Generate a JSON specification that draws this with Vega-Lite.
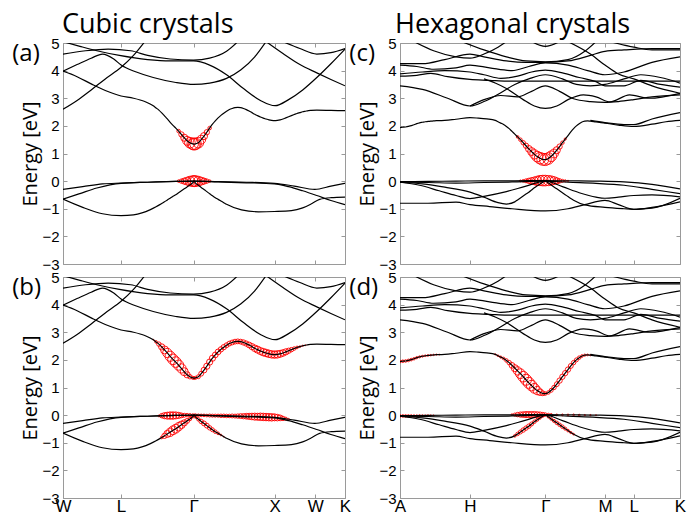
{
"$schema":"https://vega.github.io/schema/vega-lite/v6.json",
"padding":{"left":11,"top":10,"right":2,"bottom":0},
"config":{"font":"Open Sans","view":{"stroke":"#9a9a9a","strokeWidth":1},
"axis":{"domain":false,"grid":false,"tickColor":"#999","tickWidth":1,"labelFont":"Liberation Sans","labelFontSize":15,"labelColor":"#000","labelFlush":false,"labelOverlap":false,"titleFont":"Open Sans","titleFontSize":20,"titleFontWeight":"normal","titleColor":"#000","minExtent":0}},
"datasets":{
"cub":[
{"b":"V1","k":0,"E":-0.3},{"b":"V1","k":0.07,"E":-0.2},{"b":"V1","k":0.14,"E":-0.1},{"b":"V1","k":0.206,"E":-0.07},{"b":"V1","k":0.3,"E":-0.04},{"b":"V1","k":0.4,"E":-0.01},{"b":"V1","k":0.465,"E":0},{"b":"V1","k":0.55,"E":-0.02},{"b":"V1","k":0.65,"E":-0.04},{"b":"V1","k":0.75,"E":-0.08},{"b":"V1","k":0.82,"E":-0.18},{"b":"V1","k":0.893,"E":-0.3},{"b":"V1","k":0.95,"E":-0.18},{"b":"V1","k":1,"E":-0.08},
{"b":"V2","k":0,"E":-0.65},{"b":"V2","k":0.06,"E":-0.45},{"b":"V2","k":0.12,"E":-0.25},{"b":"V2","k":0.206,"E":-0.08},{"b":"V2","k":0.3,"E":-0.04},{"b":"V2","k":0.4,"E":-0.01},{"b":"V2","k":0.465,"E":0},{"b":"V2","k":0.55,"E":-0.03},{"b":"V2","k":0.65,"E":-0.06},{"b":"V2","k":0.75,"E":-0.1},{"b":"V2","k":0.8,"E":-0.2},{"b":"V2","k":0.85,"E":-0.35},{"b":"V2","k":0.9,"E":-0.52},{"b":"V2","k":0.95,"E":-0.7},{"b":"V2","k":1,"E":-0.85},
{"b":"V3","k":0,"E":-0.65},{"b":"V3","k":0.07,"E":-0.95},{"b":"V3","k":0.14,"E":-1.18},{"b":"V3","k":0.206,"E":-1.25},{"b":"V3","k":0.25,"E":-1.22},{"b":"V3","k":0.28,"E":-1.15},{"b":"V3","k":0.31,"E":-1.03},{"b":"V3","k":0.33,"E":-0.93},{"b":"V3","k":0.35,"E":-0.81},{"b":"V3","k":0.36,"E":-0.75},{"b":"V3","k":0.37,"E":-0.68},{"b":"V3","k":0.38,"E":-0.62},{"b":"V3","k":0.39,"E":-0.55},{"b":"V3","k":0.4,"E":-0.49},{"b":"V3","k":0.41,"E":-0.42},{"b":"V3","k":0.42,"E":-0.35},{"b":"V3","k":0.43,"E":-0.28},{"b":"V3","k":0.44,"E":-0.21},{"b":"V3","k":0.45,"E":-0.14},{"b":"V3","k":0.46,"E":-0.06},{"b":"V3","k":0.465,"E":0},{"b":"V3","k":0.47,"E":-0.07},{"b":"V3","k":0.48,"E":-0.15},{"b":"V3","k":0.49,"E":-0.23},{"b":"V3","k":0.5,"E":-0.3},{"b":"V3","k":0.51,"E":-0.38},{"b":"V3","k":0.52,"E":-0.46},{"b":"V3","k":0.53,"E":-0.53},{"b":"V3","k":0.54,"E":-0.6},{"b":"V3","k":0.55,"E":-0.66},{"b":"V3","k":0.56,"E":-0.72},{"b":"V3","k":0.57,"E":-0.78},{"b":"V3","k":0.58,"E":-0.84},{"b":"V3","k":0.633,"E":-1.04},{"b":"V3","k":0.693,"E":-1.11},{"b":"V3","k":0.75,"E":-1.1},{"b":"V3","k":0.81,"E":-1.07},{"b":"V3","k":0.85,"E":-0.97},{"b":"V3","k":0.883,"E":-0.81},{"b":"V3","k":0.91,"E":-0.66},{"b":"V3","k":0.95,"E":-0.6},{"b":"V3","k":1,"E":-0.58},
{"b":"C1","k":0,"E":3.98},{"b":"C1","k":0.05,"E":3.78},{"b":"C1","k":0.1,"E":3.52},{"b":"C1","k":0.15,"E":3.28},{"b":"C1","k":0.206,"E":3.08},{"b":"C1","k":0.25,"E":3.0},{"b":"C1","k":0.29,"E":2.88},{"b":"C1","k":0.32,"E":2.73},{"b":"C1","k":0.33,"E":2.65},{"b":"C1","k":0.34,"E":2.57},{"b":"C1","k":0.35,"E":2.47},{"b":"C1","k":0.36,"E":2.36},{"b":"C1","k":0.37,"E":2.25},{"b":"C1","k":0.38,"E":2.13},{"b":"C1","k":0.39,"E":2.02},{"b":"C1","k":0.4,"E":1.92},{"b":"C1","k":0.41,"E":1.81},{"b":"C1","k":0.42,"E":1.69},{"b":"C1","k":0.43,"E":1.57},{"b":"C1","k":0.44,"E":1.46},{"b":"C1","k":0.45,"E":1.39},{"b":"C1","k":0.46,"E":1.35},{"b":"C1","k":0.465,"E":1.34},{"b":"C1","k":0.47,"E":1.35},{"b":"C1","k":0.48,"E":1.39},{"b":"C1","k":0.49,"E":1.5},{"b":"C1","k":0.5,"E":1.63},{"b":"C1","k":0.51,"E":1.77},{"b":"C1","k":0.52,"E":1.92},{"b":"C1","k":0.53,"E":2.06},{"b":"C1","k":0.54,"E":2.18},{"b":"C1","k":0.55,"E":2.29},{"b":"C1","k":0.56,"E":2.38},{"b":"C1","k":0.57,"E":2.46},{"b":"C1","k":0.58,"E":2.53},{"b":"C1","k":0.59,"E":2.59},{"b":"C1","k":0.6,"E":2.63},{"b":"C1","k":0.61,"E":2.66},{"b":"C1","k":0.62,"E":2.67},{"b":"C1","k":0.63,"E":2.66},{"b":"C1","k":0.64,"E":2.63},{"b":"C1","k":0.65,"E":2.59},{"b":"C1","k":0.66,"E":2.54},{"b":"C1","k":0.67,"E":2.48},{"b":"C1","k":0.68,"E":2.42},{"b":"C1","k":0.69,"E":2.37},{"b":"C1","k":0.7,"E":2.32},{"b":"C1","k":0.71,"E":2.28},{"b":"C1","k":0.72,"E":2.25},{"b":"C1","k":0.73,"E":2.22},{"b":"C1","k":0.74,"E":2.2},{"b":"C1","k":0.75,"E":2.19},{"b":"C1","k":0.76,"E":2.2},{"b":"C1","k":0.77,"E":2.22},{"b":"C1","k":0.78,"E":2.25},{"b":"C1","k":0.79,"E":2.29},{"b":"C1","k":0.8,"E":2.33},{"b":"C1","k":0.81,"E":2.37},{"b":"C1","k":0.82,"E":2.41},{"b":"C1","k":0.83,"E":2.45},{"b":"C1","k":0.84,"E":2.48},{"b":"C1","k":0.85,"E":2.51},{"b":"C1","k":0.86,"E":2.53},{"b":"C1","k":0.87,"E":2.55},{"b":"C1","k":0.88,"E":2.56},{"b":"C1","k":0.9,"E":2.57},{"b":"C1","k":0.95,"E":2.56},{"b":"C1","k":1,"E":2.55},
{"b":"C2","k":0,"E":2.6},{"b":"C2","k":0.05,"E":2.92},{"b":"C2","k":0.1,"E":3.3},{"b":"C2","k":0.15,"E":3.7},{"b":"C2","k":0.206,"E":4.12},{"b":"C2","k":0.25,"E":4.55},{"b":"C2","k":0.29,"E":5.05},
{"b":"C3","k":0,"E":3.98},{"b":"C3","k":0.05,"E":4.22},{"b":"C3","k":0.1,"E":4.45},{"b":"C3","k":0.14,"E":4.6},{"b":"C3","k":0.18,"E":4.42},{"b":"C3","k":0.206,"E":4.2},{"b":"C3","k":0.26,"E":3.95},{"b":"C3","k":0.32,"E":3.75},{"b":"C3","k":0.4,"E":3.57},{"b":"C3","k":0.463,"E":3.5},{"b":"C3","k":0.52,"E":3.55},{"b":"C3","k":0.58,"E":3.72},{"b":"C3","k":0.63,"E":4.02},{"b":"C3","k":0.68,"E":4.5},{"b":"C3","k":0.72,"E":5.05},
{"b":"C4","k":0,"E":5.05},{"b":"C4","k":0.06,"E":4.88},{"b":"C4","k":0.12,"E":4.72},{"b":"C4","k":0.2,"E":4.55},{"b":"C4","k":0.3,"E":4.4},{"b":"C4","k":0.38,"E":4.35},{"b":"C4","k":0.463,"E":4.35},{"b":"C4","k":0.52,"E":4.2},{"b":"C4","k":0.58,"E":3.85},{"b":"C4","k":0.64,"E":3.35},{"b":"C4","k":0.7,"E":2.92},{"b":"C4","k":0.752,"E":2.73},{"b":"C4","k":0.8,"E":2.95},{"b":"C4","k":0.85,"E":3.3},{"b":"C4","k":0.9,"E":3.75},{"b":"C4","k":0.95,"E":4.25},{"b":"C4","k":1,"E":4.78},
{"b":"C5","k":0,"E":4.6},{"b":"C5","k":0.08,"E":4.72},{"b":"C5","k":0.16,"E":4.78},{"b":"C5","k":0.24,"E":4.72},{"b":"C5","k":0.3,"E":4.55},{"b":"C5","k":0.38,"E":4.42},{"b":"C5","k":0.463,"E":4.38},{"b":"C5","k":0.52,"E":4.45},{"b":"C5","k":0.58,"E":4.7},{"b":"C5","k":0.62,"E":5.05},
{"b":"C7","k":0.72,"E":5.05},{"b":"C7","k":0.78,"E":4.62},{"b":"C7","k":0.84,"E":4.22},{"b":"C7","k":0.9,"E":3.92},{"b":"C7","k":0.95,"E":3.68},{"b":"C7","k":1,"E":3.45},
{"b":"C8","k":0.78,"E":5.05},{"b":"C8","k":0.84,"E":4.8},{"b":"C8","k":0.9,"E":4.6},{"b":"C8","k":0.95,"E":4.65},{"b":"C8","k":1,"E":4.8}
],
"hex":[
{"b":"V1","k":0,"E":-0.02},{"b":"V1","k":0.1,"E":-0.01},{"b":"V1","k":0.2,"E":0},{"b":"V1","k":0.3,"E":0.01},{"b":"V1","k":0.4,"E":0.01},{"b":"V1","k":0.519,"E":0.02},{"b":"V1","k":0.6,"E":0.01},{"b":"V1","k":0.7,"E":0},{"b":"V1","k":0.8,"E":-0.03},{"b":"V1","k":0.9,"E":-0.12},{"b":"V1","k":1,"E":-0.28},
{"b":"V2","k":0,"E":-0.04},{"b":"V2","k":0.1,"E":-0.05},{"b":"V2","k":0.2,"E":-0.07},{"b":"V2","k":0.3,"E":-0.05},{"b":"V2","k":0.4,"E":-0.03},{"b":"V2","k":0.519,"E":0},{"b":"V2","k":0.6,"E":-0.04},{"b":"V2","k":0.7,"E":-0.08},{"b":"V2","k":0.8,"E":-0.15},{"b":"V2","k":0.9,"E":-0.3},{"b":"V2","k":1,"E":-0.45},
{"b":"V3","k":0,"E":-0.04},{"b":"V3","k":0.07,"E":-0.15},{"b":"V3","k":0.14,"E":-0.35},{"b":"V3","k":0.2,"E":-0.52},{"b":"V3","k":0.25,"E":-0.63},{"b":"V3","k":0.3,"E":-0.55},{"b":"V3","k":0.38,"E":-0.38},{"b":"V3","k":0.45,"E":-0.18},{"b":"V3","k":0.519,"E":0},{"b":"V3","k":0.58,"E":-0.2},{"b":"V3","k":0.64,"E":-0.42},{"b":"V3","k":0.7,"E":-0.58},{"b":"V3","k":0.732,"E":-0.62},{"b":"V3","k":0.78,"E":-0.58},{"b":"V3","k":0.835,"E":-0.52},{"b":"V3","k":0.9,"E":-0.5},{"b":"V3","k":1,"E":-0.57},
{"b":"V4","k":0,"E":-0.04},{"b":"V4","k":0.08,"E":-0.1},{"b":"V4","k":0.16,"E":-0.22},{"b":"V4","k":0.25,"E":-0.4},{"b":"V4","k":0.3,"E":-0.58},{"b":"V4","k":0.35,"E":-0.78},{"b":"V4","k":0.38,"E":-0.83},{"b":"V4","k":0.41,"E":-0.75},{"b":"V4","k":0.42,"E":-0.68},{"b":"V4","k":0.43,"E":-0.61},{"b":"V4","k":0.44,"E":-0.54},{"b":"V4","k":0.45,"E":-0.47},{"b":"V4","k":0.46,"E":-0.4},{"b":"V4","k":0.47,"E":-0.32},{"b":"V4","k":0.48,"E":-0.24},{"b":"V4","k":0.49,"E":-0.17},{"b":"V4","k":0.5,"E":-0.1},{"b":"V4","k":0.51,"E":-0.04},{"b":"V4","k":0.519,"E":0},{"b":"V4","k":0.53,"E":-0.07},{"b":"V4","k":0.54,"E":-0.14},{"b":"V4","k":0.55,"E":-0.21},{"b":"V4","k":0.56,"E":-0.28},{"b":"V4","k":0.57,"E":-0.35},{"b":"V4","k":0.58,"E":-0.42},{"b":"V4","k":0.59,"E":-0.49},{"b":"V4","k":0.6,"E":-0.56},{"b":"V4","k":0.61,"E":-0.63},{"b":"V4","k":0.62,"E":-0.69},{"b":"V4","k":0.66,"E":-0.86},{"b":"V4","k":0.732,"E":-0.95},{"b":"V4","k":0.8,"E":-1.0},{"b":"V4","k":0.835,"E":-1.02},{"b":"V4","k":0.9,"E":-0.95},{"b":"V4","k":1,"E":-0.75},
{"b":"V5","k":0,"E":-0.8},{"b":"V5","k":0.1,"E":-0.8},{"b":"V5","k":0.2,"E":-0.76},{"b":"V5","k":0.25,"E":-0.85},{"b":"V5","k":0.32,"E":-0.92},{"b":"V5","k":0.4,"E":-1.0},{"b":"V5","k":0.519,"E":-1.08},{"b":"V5","k":0.6,"E":-1.0},{"b":"V5","k":0.66,"E":-0.85},{"b":"V5","k":0.732,"E":-0.7},{"b":"V5","k":0.78,"E":-0.85},{"b":"V5","k":0.835,"E":-1.02},{"b":"V5","k":0.9,"E":-0.98},{"b":"V5","k":1,"E":-0.62},
{"b":"C1","k":0,"E":1.94},{"b":"C1","k":0.01,"E":1.95},{"b":"C1","k":0.02,"E":1.96},{"b":"C1","k":0.03,"E":1.98},{"b":"C1","k":0.04,"E":2.01},{"b":"C1","k":0.05,"E":2.04},{"b":"C1","k":0.06,"E":2.08},{"b":"C1","k":0.07,"E":2.11},{"b":"C1","k":0.08,"E":2.13},{"b":"C1","k":0.09,"E":2.15},{"b":"C1","k":0.1,"E":2.16},{"b":"C1","k":0.11,"E":2.17},{"b":"C1","k":0.12,"E":2.18},{"b":"C1","k":0.13,"E":2.19},{"b":"C1","k":0.14,"E":2.19},{"b":"C1","k":0.2,"E":2.24},{"b":"C1","k":0.25,"E":2.3},{"b":"C1","k":0.28,"E":2.28},{"b":"C1","k":0.31,"E":2.25},{"b":"C1","k":0.34,"E":2.2},{"b":"C1","k":0.35,"E":2.15},{"b":"C1","k":0.36,"E":2.1},{"b":"C1","k":0.37,"E":2.05},{"b":"C1","k":0.38,"E":1.98},{"b":"C1","k":0.39,"E":1.9},{"b":"C1","k":0.4,"E":1.8},{"b":"C1","k":0.41,"E":1.7},{"b":"C1","k":0.42,"E":1.6},{"b":"C1","k":0.43,"E":1.5},{"b":"C1","k":0.44,"E":1.39},{"b":"C1","k":0.45,"E":1.28},{"b":"C1","k":0.46,"E":1.17},{"b":"C1","k":0.47,"E":1.07},{"b":"C1","k":0.48,"E":0.97},{"b":"C1","k":0.49,"E":0.89},{"b":"C1","k":0.5,"E":0.83},{"b":"C1","k":0.51,"E":0.79},{"b":"C1","k":0.519,"E":0.78},{"b":"C1","k":0.53,"E":0.82},{"b":"C1","k":0.54,"E":0.9},{"b":"C1","k":0.55,"E":1.0},{"b":"C1","k":0.56,"E":1.12},{"b":"C1","k":0.57,"E":1.25},{"b":"C1","k":0.58,"E":1.39},{"b":"C1","k":0.59,"E":1.52},{"b":"C1","k":0.6,"E":1.65},{"b":"C1","k":0.61,"E":1.78},{"b":"C1","k":0.62,"E":1.9},{"b":"C1","k":0.63,"E":2.0},{"b":"C1","k":0.64,"E":2.08},{"b":"C1","k":0.65,"E":2.14},{"b":"C1","k":0.66,"E":2.17},{"b":"C1","k":0.67,"E":2.18},{"b":"C1","k":0.68,"E":2.17},{"b":"C1","k":0.7,"E":2.14},{"b":"C1","k":0.732,"E":2.1},{"b":"C1","k":0.78,"E":2.03},{"b":"C1","k":0.835,"E":1.98},{"b":"C1","k":0.9,"E":2.06},{"b":"C1","k":0.95,"E":2.15},{"b":"C1","k":1,"E":2.2},
{"b":"C1b","k":0.68,"E":2.2},{"b":"C1b","k":0.732,"E":2.12},{"b":"C1b","k":0.8,"E":2.05},{"b":"C1b","k":0.835,"E":2.05},{"b":"C1b","k":0.9,"E":2.25},{"b":"C1b","k":1,"E":2.48},
{"b":"C2","k":0,"E":3.45},{"b":"C2","k":0.08,"E":3.32},{"b":"C2","k":0.17,"E":3.0},{"b":"C2","k":0.25,"E":2.72},{"b":"C2","k":0.3,"E":2.88},{"b":"C2","k":0.36,"E":3.2},{"b":"C2","k":0.41,"E":3.5},{"b":"C2","k":0.46,"E":3.7},{"b":"C2","k":0.519,"E":3.85},{"b":"C2","k":0.58,"E":3.7},{"b":"C2","k":0.63,"E":3.5},{"b":"C2","k":0.68,"E":3.45},{"b":"C2","k":0.732,"E":3.5},{"b":"C2","k":0.8,"E":3.7},{"b":"C2","k":0.86,"E":3.85},{"b":"C2","k":0.93,"E":3.75},{"b":"C2","k":1,"E":3.55},
{"b":"C3","k":0.3,"E":3.7},{"b":"C3","k":0.34,"E":3.55},{"b":"C3","k":0.38,"E":3.35},{"b":"C3","k":0.44,"E":2.95},{"b":"C3","k":0.48,"E":2.72},{"b":"C3","k":0.519,"E":2.63},{"b":"C3","k":0.56,"E":2.72},{"b":"C3","k":0.6,"E":2.95},{"b":"C3","k":0.655,"E":3.12},{"b":"C3","k":0.7,"E":3.05},{"b":"C3","k":0.75,"E":2.87},{"b":"C3","k":0.82,"E":3.12},{"b":"C3","k":0.89,"E":3.0},{"b":"C3","k":1,"E":3.18},
{"b":"C4","k":0.25,"E":2.72},{"b":"C4","k":0.3,"E":2.95},{"b":"C4","k":0.36,"E":3.1},{"b":"C4","k":0.42,"E":3.05},{"b":"C4","k":0.47,"E":3.25},{"b":"C4","k":0.519,"E":3.45},{"b":"C4","k":0.57,"E":3.25},{"b":"C4","k":0.62,"E":2.98},{"b":"C4","k":0.68,"E":2.88},{"b":"C4","k":0.732,"E":2.85},{"b":"C4","k":0.78,"E":2.88},{"b":"C4","k":0.835,"E":2.95},{"b":"C4","k":0.9,"E":3.05},{"b":"C4","k":1,"E":3.12},
{"b":"C5","k":0,"E":3.8},{"b":"C5","k":0.06,"E":3.83},{"b":"C5","k":0.11,"E":3.9},{"b":"C5","k":0.17,"E":3.78},{"b":"C5","k":0.25,"E":3.68},{"b":"C5","k":0.32,"E":3.65},{"b":"C5","k":0.38,"E":3.62},{"b":"C5","k":0.6,"E":3.62},{"b":"C5","k":1,"E":3.62},
{"b":"C6","k":0,"E":3.88},{"b":"C6","k":0.08,"E":3.95},{"b":"C6","k":0.16,"E":4.0},{"b":"C6","k":0.25,"E":3.95},{"b":"C6","k":0.3,"E":3.85},{"b":"C6","k":0.36,"E":3.72},{"b":"C6","k":0.42,"E":3.8},{"b":"C6","k":0.47,"E":3.95},{"b":"C6","k":0.519,"E":4.02},{"b":"C6","k":0.58,"E":3.92},{"b":"C6","k":0.64,"E":3.75},{"b":"C6","k":0.7,"E":3.6},{"b":"C6","k":0.732,"E":3.45},{"b":"C6","k":0.8,"E":3.45},{"b":"C6","k":0.86,"E":3.65},{"b":"C6","k":0.93,"E":3.5},{"b":"C6","k":1,"E":3.4},
{"b":"C7","k":0,"E":4.25},{"b":"C7","k":0.08,"E":4.25},{"b":"C7","k":0.16,"E":4.4},{"b":"C7","k":0.25,"E":4.6},{"b":"C7","k":0.3,"E":4.5},{"b":"C7","k":0.38,"E":4.35},{"b":"C7","k":0.45,"E":4.3},{"b":"C7","k":0.519,"E":4.3},{"b":"C7","k":0.6,"E":4.35},{"b":"C7","k":0.68,"E":4.55},{"b":"C7","k":0.732,"E":4.7},{"b":"C7","k":0.8,"E":4.75},{"b":"C7","k":0.9,"E":4.8},{"b":"C7","k":1,"E":4.8},
{"b":"C8","k":0,"E":4.2},{"b":"C8","k":0.06,"E":4.15},{"b":"C8","k":0.12,"E":4.05},{"b":"C8","k":0.2,"E":4.1},{"b":"C8","k":0.25,"E":4.2},{"b":"C8","k":0.32,"E":4.1},{"b":"C8","k":0.4,"E":4.0},{"b":"C8","k":0.46,"E":4.15},{"b":"C8","k":0.519,"E":4.28},{"b":"C8","k":0.6,"E":4.2},{"b":"C8","k":0.67,"E":4.0},{"b":"C8","k":0.732,"E":3.85},{"b":"C8","k":0.8,"E":3.95},{"b":"C8","k":0.9,"E":4.3},{"b":"C8","k":1,"E":4.5},
{"b":"C9","k":0.05,"E":5.05},{"b":"C9","k":0.12,"E":4.72},{"b":"C9","k":0.2,"E":4.5},{"b":"C9","k":0.25,"E":4.45},{"b":"C9","k":0.3,"E":4.6},{"b":"C9","k":0.35,"E":4.85},{"b":"C9","k":0.38,"E":5.05},
{"b":"C10","k":0.22,"E":5.05},{"b":"C10","k":0.3,"E":4.75},{"b":"C10","k":0.38,"E":4.5},{"b":"C10","k":0.45,"E":4.35},{"b":"C10","k":0.519,"E":4.32},{"b":"C10","k":0.6,"E":4.4},{"b":"C10","k":0.66,"E":4.7},{"b":"C10","k":0.7,"E":5.05},
{"b":"C11","k":0.47,"E":5.05},{"b":"C11","k":0.519,"E":4.88},{"b":"C11","k":0.57,"E":5.05},
{"b":"C12","k":0.6,"E":5.05},{"b":"C12","k":0.68,"E":4.6},{"b":"C12","k":0.732,"E":4.2},{"b":"C12","k":0.78,"E":3.88},{"b":"C12","k":0.835,"E":3.7},{"b":"C12","k":0.9,"E":3.45},{"b":"C12","k":1,"E":3.18},
{"b":"C13","k":0.75,"E":5.05},{"b":"C13","k":0.835,"E":4.85},{"b":"C13","k":0.9,"E":4.75},{"b":"C13","k":1,"E":4.75}
],
"fa":[
{"k":0.41,"E":1.81,"w":4},{"k":0.42,"E":1.69,"w":6},{"k":0.43,"E":1.57,"w":8},{"k":0.44,"E":1.46,"w":10},{"k":0.45,"E":1.39,"w":12},{"k":0.46,"E":1.35,"w":13},{"k":0.465,"E":1.34,"w":13.5},{"k":0.47,"E":1.35,"w":13},{"k":0.48,"E":1.39,"w":12},{"k":0.49,"E":1.5,"w":10},{"k":0.5,"E":1.63,"w":8},{"k":0.51,"E":1.77,"w":6},{"k":0.52,"E":1.92,"w":4},
{"k":0.41,"E":0,"w":3},{"k":0.42,"E":0,"w":5},{"k":0.43,"E":0,"w":7},{"k":0.44,"E":0,"w":9},{"k":0.45,"E":0,"w":11},{"k":0.46,"E":0,"w":12},{"k":0.465,"E":0,"w":12.5},{"k":0.47,"E":0,"w":12},{"k":0.48,"E":0,"w":11},{"k":0.49,"E":0,"w":9},{"k":0.5,"E":0,"w":7},{"k":0.51,"E":0,"w":5},{"k":0.52,"E":0,"w":3}
],
"fb":[
{"k":0.32,"E":2.73,"w":1},{"k":0.33,"E":2.65,"w":3},{"k":0.34,"E":2.57,"w":5},{"k":0.35,"E":2.47,"w":7},{"k":0.36,"E":2.36,"w":9},{"k":0.37,"E":2.25,"w":10.5},{"k":0.38,"E":2.13,"w":11.5},{"k":0.39,"E":2.02,"w":12},{"k":0.4,"E":1.92,"w":12},{"k":0.41,"E":1.81,"w":11.5},{"k":0.42,"E":1.69,"w":10.5},{"k":0.43,"E":1.57,"w":9},{"k":0.44,"E":1.46,"w":7},{"k":0.45,"E":1.39,"w":5},{"k":0.46,"E":1.35,"w":3.5},{"k":0.465,"E":1.34,"w":3},{"k":0.47,"E":1.35,"w":3.5},{"k":0.48,"E":1.39,"w":4.5},{"k":0.49,"E":1.5,"w":5.5},{"k":0.5,"E":1.63,"w":6.5},{"k":0.51,"E":1.77,"w":7},{"k":0.52,"E":1.92,"w":7},{"k":0.53,"E":2.06,"w":7},{"k":0.54,"E":2.18,"w":6.5},{"k":0.55,"E":2.29,"w":6.5},{"k":0.56,"E":2.38,"w":6},{"k":0.57,"E":2.46,"w":6},{"k":0.58,"E":2.53,"w":5.5},{"k":0.59,"E":2.59,"w":5.5},{"k":0.6,"E":2.63,"w":5.5},{"k":0.61,"E":2.66,"w":5.5},{"k":0.62,"E":2.67,"w":5.5},{"k":0.63,"E":2.66,"w":5.5},{"k":0.64,"E":2.63,"w":6},{"k":0.65,"E":2.59,"w":6},{"k":0.66,"E":2.54,"w":6.5},{"k":0.67,"E":2.48,"w":7},{"k":0.68,"E":2.42,"w":7.5},{"k":0.69,"E":2.37,"w":8},{"k":0.7,"E":2.32,"w":8},{"k":0.71,"E":2.28,"w":8.5},{"k":0.72,"E":2.25,"w":8.5},{"k":0.73,"E":2.22,"w":8.5},{"k":0.74,"E":2.2,"w":8.5},{"k":0.75,"E":2.19,"w":8.5},{"k":0.76,"E":2.2,"w":8.5},{"k":0.77,"E":2.22,"w":8},{"k":0.78,"E":2.25,"w":7.5},{"k":0.79,"E":2.29,"w":7},{"k":0.8,"E":2.33,"w":6},{"k":0.81,"E":2.37,"w":5},{"k":0.82,"E":2.41,"w":4},{"k":0.83,"E":2.45,"w":3},{"k":0.84,"E":2.48,"w":2},{"k":0.85,"E":2.51,"w":1.5},{"k":0.86,"E":2.53,"w":1},{"k":0.87,"E":2.55,"w":0.5},
{"k":0.34,"E":-0.03,"w":2},{"k":0.35,"E":-0.02,"w":5},{"k":0.36,"E":-0.02,"w":7},{"k":0.37,"E":-0.02,"w":8},{"k":0.38,"E":-0.015,"w":8.5},{"k":0.39,"E":-0.015,"w":8.5},{"k":0.4,"E":-0.01,"w":8},{"k":0.41,"E":-0.01,"w":7},{"k":0.42,"E":-0.01,"w":5.5},{"k":0.43,"E":-0.005,"w":4.5},{"k":0.44,"E":0,"w":4},{"k":0.45,"E":0,"w":3.5},{"k":0.46,"E":0,"w":3},{"k":0.47,"E":0,"w":3},{"k":0.48,"E":-0.005,"w":3},{"k":0.49,"E":-0.01,"w":3},{"k":0.5,"E":-0.01,"w":3},{"k":0.51,"E":-0.015,"w":3},{"k":0.52,"E":-0.015,"w":3.5},{"k":0.53,"E":-0.02,"w":3.5},{"k":0.54,"E":-0.02,"w":3.5},{"k":0.55,"E":-0.02,"w":3.5},{"k":0.56,"E":-0.025,"w":4},{"k":0.57,"E":-0.025,"w":4},{"k":0.58,"E":-0.03,"w":4},{"k":0.59,"E":-0.03,"w":4},{"k":0.6,"E":-0.03,"w":4.5},{"k":0.61,"E":-0.035,"w":4.5},{"k":0.62,"E":-0.035,"w":5},{"k":0.63,"E":-0.035,"w":5.5},{"k":0.64,"E":-0.04,"w":6},{"k":0.65,"E":-0.04,"w":6.5},{"k":0.66,"E":-0.045,"w":7},{"k":0.67,"E":-0.05,"w":7.5},{"k":0.68,"E":-0.055,"w":8},{"k":0.69,"E":-0.06,"w":8},{"k":0.7,"E":-0.06,"w":8.5},{"k":0.71,"E":-0.065,"w":8.5},{"k":0.72,"E":-0.07,"w":8.5},{"k":0.73,"E":-0.075,"w":8.5},{"k":0.74,"E":-0.08,"w":8.5},{"k":0.75,"E":-0.08,"w":8},{"k":0.76,"E":-0.09,"w":7.5},{"k":0.77,"E":-0.1,"w":6.5},{"k":0.78,"E":-0.12,"w":5},{"k":0.79,"E":-0.13,"w":3.5},{"k":0.8,"E":-0.15,"w":2},
{"k":0.35,"E":-0.81,"w":3},{"k":0.36,"E":-0.75,"w":6},{"k":0.37,"E":-0.68,"w":8},{"k":0.38,"E":-0.62,"w":9.5},{"k":0.39,"E":-0.55,"w":10},{"k":0.4,"E":-0.49,"w":10},{"k":0.41,"E":-0.42,"w":9.5},{"k":0.42,"E":-0.35,"w":8.5},{"k":0.43,"E":-0.28,"w":7},{"k":0.44,"E":-0.21,"w":5.5},{"k":0.45,"E":-0.14,"w":4},{"k":0.46,"E":-0.06,"w":3},{"k":0.465,"E":0,"w":2.5},
{"k":0.47,"E":-0.07,"w":3},{"k":0.48,"E":-0.15,"w":4},{"k":0.49,"E":-0.23,"w":5},{"k":0.5,"E":-0.3,"w":5.5},{"k":0.51,"E":-0.38,"w":5.5},{"k":0.52,"E":-0.46,"w":5},{"k":0.53,"E":-0.53,"w":4.5},{"k":0.54,"E":-0.6,"w":4},{"k":0.55,"E":-0.66,"w":3},{"k":0.56,"E":-0.72,"w":2},{"k":0.57,"E":-0.78,"w":1}
],
"fc":[
{"k":0.42,"E":1.6,"w":3},{"k":0.43,"E":1.5,"w":4},{"k":0.44,"E":1.39,"w":5},{"k":0.45,"E":1.28,"w":6},{"k":0.46,"E":1.17,"w":7.5},{"k":0.47,"E":1.07,"w":9},{"k":0.48,"E":0.97,"w":10.5},{"k":0.49,"E":0.89,"w":12},{"k":0.5,"E":0.83,"w":13},{"k":0.51,"E":0.79,"w":13.5},{"k":0.519,"E":0.78,"w":13.5},{"k":0.53,"E":0.82,"w":13},{"k":0.54,"E":0.9,"w":12},{"k":0.55,"E":1.0,"w":10},{"k":0.56,"E":1.12,"w":8},{"k":0.57,"E":1.25,"w":6},{"k":0.58,"E":1.39,"w":4},{"k":0.59,"E":1.52,"w":2.5},
{"k":0.43,"E":0.01,"w":2},{"k":0.44,"E":0.01,"w":3},{"k":0.45,"E":0.01,"w":4.5},{"k":0.46,"E":0.01,"w":6},{"k":0.47,"E":0.01,"w":7.5},{"k":0.48,"E":0.01,"w":9},{"k":0.49,"E":0.01,"w":10.5},{"k":0.5,"E":0.02,"w":11.5},{"k":0.51,"E":0.02,"w":12},{"k":0.519,"E":0.02,"w":12},{"k":0.53,"E":0.02,"w":11.5},{"k":0.54,"E":0.02,"w":10.5},{"k":0.55,"E":0.02,"w":9},{"k":0.56,"E":0.01,"w":7},{"k":0.57,"E":0.01,"w":5},{"k":0.58,"E":0.01,"w":3.5},{"k":0.59,"E":0.01,"w":2.5},{"k":0.6,"E":0.01,"w":1.5}
],
"fd":[
{"k":0,"E":1.94,"w":3},{"k":0.01,"E":1.95,"w":3},{"k":0.02,"E":1.96,"w":3},{"k":0.03,"E":1.98,"w":3},{"k":0.04,"E":2.01,"w":3},{"k":0.05,"E":2.04,"w":2.8},{"k":0.06,"E":2.08,"w":2.6},{"k":0.07,"E":2.11,"w":2.4},{"k":0.08,"E":2.13,"w":2.2},{"k":0.09,"E":2.15,"w":2},{"k":0.1,"E":2.16,"w":2},{"k":0.11,"E":2.17,"w":1.8},{"k":0.12,"E":2.18,"w":1.6},{"k":0.13,"E":2.19,"w":1.4},{"k":0.14,"E":2.19,"w":1.2},
{"k":0.34,"E":2.2,"w":1.5},{"k":0.35,"E":2.15,"w":2},{"k":0.36,"E":2.1,"w":2.5},{"k":0.37,"E":2.05,"w":3},{"k":0.38,"E":1.98,"w":4},{"k":0.39,"E":1.9,"w":5},{"k":0.4,"E":1.8,"w":6.5},{"k":0.41,"E":1.7,"w":8},{"k":0.42,"E":1.6,"w":9.5},{"k":0.43,"E":1.5,"w":11},{"k":0.44,"E":1.39,"w":12},{"k":0.45,"E":1.28,"w":12.5},{"k":0.46,"E":1.17,"w":12.5},{"k":0.47,"E":1.07,"w":12},{"k":0.48,"E":0.97,"w":11},{"k":0.49,"E":0.89,"w":9.5},{"k":0.5,"E":0.83,"w":7.5},{"k":0.51,"E":0.79,"w":5.5},{"k":0.519,"E":0.78,"w":4},{"k":0.53,"E":0.82,"w":4},{"k":0.54,"E":0.9,"w":4.5},{"k":0.55,"E":1.0,"w":5},{"k":0.56,"E":1.12,"w":5.5},{"k":0.57,"E":1.25,"w":6},{"k":0.58,"E":1.39,"w":6},{"k":0.59,"E":1.52,"w":6},{"k":0.6,"E":1.65,"w":6},{"k":0.61,"E":1.78,"w":5.5},{"k":0.62,"E":1.9,"w":5},{"k":0.63,"E":2.0,"w":4.5},{"k":0.64,"E":2.08,"w":4},{"k":0.65,"E":2.14,"w":3},{"k":0.66,"E":2.17,"w":2.5},{"k":0.67,"E":2.18,"w":2},{"k":0.68,"E":2.17,"w":1.5},
{"k":0,"E":-0.03,"w":3},{"k":0.01,"E":-0.03,"w":3},{"k":0.02,"E":-0.03,"w":3},{"k":0.03,"E":-0.03,"w":3},{"k":0.04,"E":-0.03,"w":2.8},{"k":0.05,"E":-0.03,"w":2.6},{"k":0.06,"E":-0.03,"w":2.4},{"k":0.07,"E":-0.02,"w":2.2},{"k":0.08,"E":-0.02,"w":2},{"k":0.09,"E":-0.02,"w":1.8},{"k":0.1,"E":-0.01,"w":1.6},{"k":0.11,"E":-0.01,"w":1.4},{"k":0.12,"E":-0.01,"w":1.2},
{"k":0.4,"E":0.02,"w":2},{"k":0.41,"E":0.02,"w":3.5},{"k":0.42,"E":0.02,"w":5},{"k":0.43,"E":0.02,"w":6},{"k":0.44,"E":0.02,"w":6.5},{"k":0.45,"E":0.02,"w":7},{"k":0.46,"E":0.02,"w":7},{"k":0.47,"E":0.02,"w":7},{"k":0.48,"E":0.02,"w":7},{"k":0.49,"E":0.02,"w":6.5},{"k":0.5,"E":0.02,"w":6},{"k":0.51,"E":0.02,"w":5},{"k":0.519,"E":0.02,"w":4},{"k":0.53,"E":0.02,"w":3},{"k":0.54,"E":0.02,"w":2.5},{"k":0.56,"E":0.01,"w":2},{"k":0.58,"E":0.01,"w":2},{"k":0.6,"E":0.01,"w":2},{"k":0.62,"E":0.01,"w":2},{"k":0.64,"E":0.0,"w":2},{"k":0.66,"E":0.0,"w":1.5},{"k":0.68,"E":0.0,"w":1.5},{"k":0.7,"E":0.0,"w":1},
{"k":0.41,"E":-0.75,"w":3},{"k":0.42,"E":-0.68,"w":4},{"k":0.43,"E":-0.61,"w":4.5},{"k":0.44,"E":-0.54,"w":5},{"k":0.45,"E":-0.47,"w":5},{"k":0.46,"E":-0.4,"w":5},{"k":0.47,"E":-0.32,"w":4.5},{"k":0.48,"E":-0.24,"w":4},{"k":0.49,"E":-0.17,"w":3.5},{"k":0.5,"E":-0.1,"w":3},{"k":0.51,"E":-0.04,"w":2.5},
{"k":0.53,"E":-0.07,"w":2.5},{"k":0.54,"E":-0.14,"w":3},{"k":0.55,"E":-0.21,"w":3.5},{"k":0.56,"E":-0.28,"w":4},{"k":0.57,"E":-0.35,"w":4},{"k":0.58,"E":-0.42,"w":4},{"k":0.59,"E":-0.49,"w":3.5},{"k":0.6,"E":-0.56,"w":3},{"k":0.61,"E":-0.63,"w":2.5},{"k":0.62,"E":-0.69,"w":2}
]
},
"hconcat":[
{"title":{"text":"Cubic crystals","anchor":"start","frame":"group","baseline":"alphabetic","offset":-24,"dx":-1,"fontSize":27,"font":"Open Sans","fontWeight":"normal","color":"#000"},
 "spacing":-4,
 "vconcat":[
  {"width":282,"height":221,
   "resolve":{"axis":{"x":"independent","y":"independent"}},
   "layer":[
    {"data":{"name":"fa"},"mark":{"type":"point","filled":false,"color":"#ff0000","strokeWidth":0.9,"opacity":1,"clip":true},
     "encoding":{"x":{"field":"k","type":"quantitative","scale":{"domain":[0,1],"nice":false,"zero":false},"axis":{"values":[0,0.206,0.463,0.751,0.895,1],"labels":false,"title":null,"offset":-4,"tickSize":4}},
      "y":{"field":"E","type":"quantitative","scale":{"domain":[-3,5],"nice":false,"zero":false},"axis":{"values":[-3,-2,-1,0,1,2,3,4,5],"title":"Energy [eV]","offset":-4,"tickSize":4,"labelPadding":4,"titlePadding":1,"labelFont":"Liberation Sans","labelFontSize":15,"labelOverlap":false,"titleFont":"Open Sans","titleFontSize":20}},
      "size":{"field":"w","type":"quantitative","scale":{"type":"pow","exponent":2,"domain":[0,14],"range":[0,154]},"legend":null}}},
    {"data":{"name":"cub"},"mark":{"type":"line","interpolate":"monotone","color":"#000","strokeWidth":1.2,"clip":true},
     "encoding":{"x":{"field":"k","type":"quantitative","axis":{"orient":"top","values":[0,0.206,0.463,0.751,0.895,1],"labels":false,"title":null,"offset":-4,"tickSize":4}},"y":{"field":"E","type":"quantitative","axis":{"orient":"right","values":[-3,-2,-1,0,1,2,3,4,5],"labels":false,"title":null,"offset":-4,"tickSize":4}},"detail":{"field":"b","type":"nominal"}}},
    {"data":{"values":[{}]},"mark":{"type":"text","text":"(a)","font":"Open Sans","fontSize":24,"align":"left","baseline":"top","clip":false,"color":"#000"},
     "encoding":{"x":{"datum":-0.18,"type":"quantitative","axis":null},"y":{"datum":5.04,"type":"quantitative","axis":null}}}
   ]},
  {"width":282,"height":221,
   "resolve":{"axis":{"x":"independent","y":"independent"}},
   "layer":[
    {"data":{"name":"fb"},"mark":{"type":"point","filled":false,"color":"#ff0000","strokeWidth":0.9,"opacity":1,"clip":true},
     "encoding":{"x":{"field":"k","type":"quantitative","scale":{"domain":[0,1],"nice":false,"zero":false},"axis":{"values":[0,0.206,0.463,0.751,0.895,1],"labelExpr":"datum.value==0?'W':datum.value==0.206?'L':datum.value==0.463?'Γ':datum.value==0.751?'X':datum.value==0.895?'W':'K'","labelFont":"Liberation Sans","labelFontSize":17,"labelPadding":0,"labelOverlap":false,"labelFlush":false,"title":null,"offset":-4,"tickSize":4}},
      "y":{"field":"E","type":"quantitative","scale":{"domain":[-3,5],"nice":false,"zero":false},"axis":{"values":[-3,-2,-1,0,1,2,3,4,5],"title":"Energy [eV]","offset":-4,"tickSize":4,"labelPadding":4,"titlePadding":1,"labelFont":"Liberation Sans","labelFontSize":15,"labelOverlap":false,"titleFont":"Open Sans","titleFontSize":20}},
      "size":{"field":"w","type":"quantitative","scale":{"type":"pow","exponent":2,"domain":[0,14],"range":[0,154]},"legend":null}}},
    {"data":{"name":"cub"},"mark":{"type":"line","interpolate":"monotone","color":"#000","strokeWidth":1.2,"clip":true},
     "encoding":{"x":{"field":"k","type":"quantitative","axis":{"orient":"top","values":[0,0.206,0.463,0.751,0.895,1],"labels":false,"title":null,"offset":-4,"tickSize":4}},"y":{"field":"E","type":"quantitative","axis":{"orient":"right","values":[-3,-2,-1,0,1,2,3,4,5],"labels":false,"title":null,"offset":-4,"tickSize":4}},"detail":{"field":"b","type":"nominal"}}},
    {"data":{"values":[{}]},"mark":{"type":"text","text":"(b)","font":"Open Sans","fontSize":24,"align":"left","baseline":"top","clip":false,"color":"#000"},
     "encoding":{"x":{"datum":-0.18,"type":"quantitative","axis":null},"y":{"datum":5.04,"type":"quantitative","axis":null}}}
   ]}
 ]},
{"title":{"text":"Hexagonal crystals","anchor":"start","frame":"group","baseline":"alphabetic","offset":-24,"dx":-5,"fontSize":27,"font":"Open Sans","fontWeight":"normal","color":"#000"},
 "spacing":-4,
 "vconcat":[
  {"width":280,"height":221,
   "resolve":{"axis":{"x":"independent","y":"independent"}},
   "layer":[
    {"data":{"name":"fc"},"mark":{"type":"point","filled":false,"color":"#ff0000","strokeWidth":0.9,"opacity":1,"clip":true},
     "encoding":{"x":{"field":"k","type":"quantitative","scale":{"domain":[0,1],"nice":false,"zero":false},"axis":{"values":[0,0.25,0.519,0.732,0.835,1],"labels":false,"title":null,"offset":-4,"tickSize":4}},
      "y":{"field":"E","type":"quantitative","scale":{"domain":[-3,5],"nice":false,"zero":false},"axis":{"values":[-3,-2,-1,0,1,2,3,4,5],"title":"Energy [eV]","offset":-4,"tickSize":4,"labelPadding":4,"titlePadding":1,"labelFont":"Liberation Sans","labelFontSize":15,"labelOverlap":false,"titleFont":"Open Sans","titleFontSize":20}},
      "size":{"field":"w","type":"quantitative","scale":{"type":"pow","exponent":2,"domain":[0,14],"range":[0,154]},"legend":null}}},
    {"data":{"name":"hex"},"mark":{"type":"line","interpolate":"monotone","color":"#000","strokeWidth":1.2,"clip":true},
     "encoding":{"x":{"field":"k","type":"quantitative","axis":{"orient":"top","values":[0,0.25,0.519,0.732,0.835,1],"labels":false,"title":null,"offset":-4,"tickSize":4}},"y":{"field":"E","type":"quantitative","axis":{"orient":"right","values":[-3,-2,-1,0,1,2,3,4,5],"labels":false,"title":null,"offset":-4,"tickSize":4}},"detail":{"field":"b","type":"nominal"}}},
    {"data":{"values":[{}]},"mark":{"type":"text","text":"(c)","font":"Open Sans","fontSize":24,"align":"left","baseline":"top","clip":false,"color":"#000"},
     "encoding":{"x":{"datum":-0.181,"type":"quantitative","axis":null},"y":{"datum":5.04,"type":"quantitative","axis":null}}}
   ]},
  {"width":280,"height":221,
   "resolve":{"axis":{"x":"independent","y":"independent"}},
   "layer":[
    {"data":{"name":"fd"},"mark":{"type":"point","filled":false,"color":"#ff0000","strokeWidth":0.9,"opacity":1,"clip":true},
     "encoding":{"x":{"field":"k","type":"quantitative","scale":{"domain":[0,1],"nice":false,"zero":false},"axis":{"values":[0,0.25,0.519,0.732,0.835,1],"labelExpr":"datum.value==0?'A':datum.value==0.25?'H':datum.value==0.519?'Γ':datum.value==0.732?'M':datum.value==0.835?'L':'K'","labelFont":"Liberation Sans","labelFontSize":17,"labelPadding":0,"labelOverlap":false,"labelFlush":false,"title":null,"offset":-4,"tickSize":4}},
      "y":{"field":"E","type":"quantitative","scale":{"domain":[-3,5],"nice":false,"zero":false},"axis":{"values":[-3,-2,-1,0,1,2,3,4,5],"title":"Energy [eV]","offset":-4,"tickSize":4,"labelPadding":4,"titlePadding":1,"labelFont":"Liberation Sans","labelFontSize":15,"labelOverlap":false,"titleFont":"Open Sans","titleFontSize":20}},
      "size":{"field":"w","type":"quantitative","scale":{"type":"pow","exponent":2,"domain":[0,14],"range":[0,154]},"legend":null}}},
    {"data":{"name":"hex"},"mark":{"type":"line","interpolate":"monotone","color":"#000","strokeWidth":1.2,"clip":true},
     "encoding":{"x":{"field":"k","type":"quantitative","axis":{"orient":"top","values":[0,0.25,0.519,0.732,0.835,1],"labels":false,"title":null,"offset":-4,"tickSize":4}},"y":{"field":"E","type":"quantitative","axis":{"orient":"right","values":[-3,-2,-1,0,1,2,3,4,5],"labels":false,"title":null,"offset":-4,"tickSize":4}},"detail":{"field":"b","type":"nominal"}}},
    {"data":{"values":[{}]},"mark":{"type":"text","text":"(d)","font":"Open Sans","fontSize":24,"align":"left","baseline":"top","clip":false,"color":"#000"},
     "encoding":{"x":{"datum":-0.181,"type":"quantitative","axis":null},"y":{"datum":5.04,"type":"quantitative","axis":null}}}
   ]}
 ]}
],
"spacing":-4
}
